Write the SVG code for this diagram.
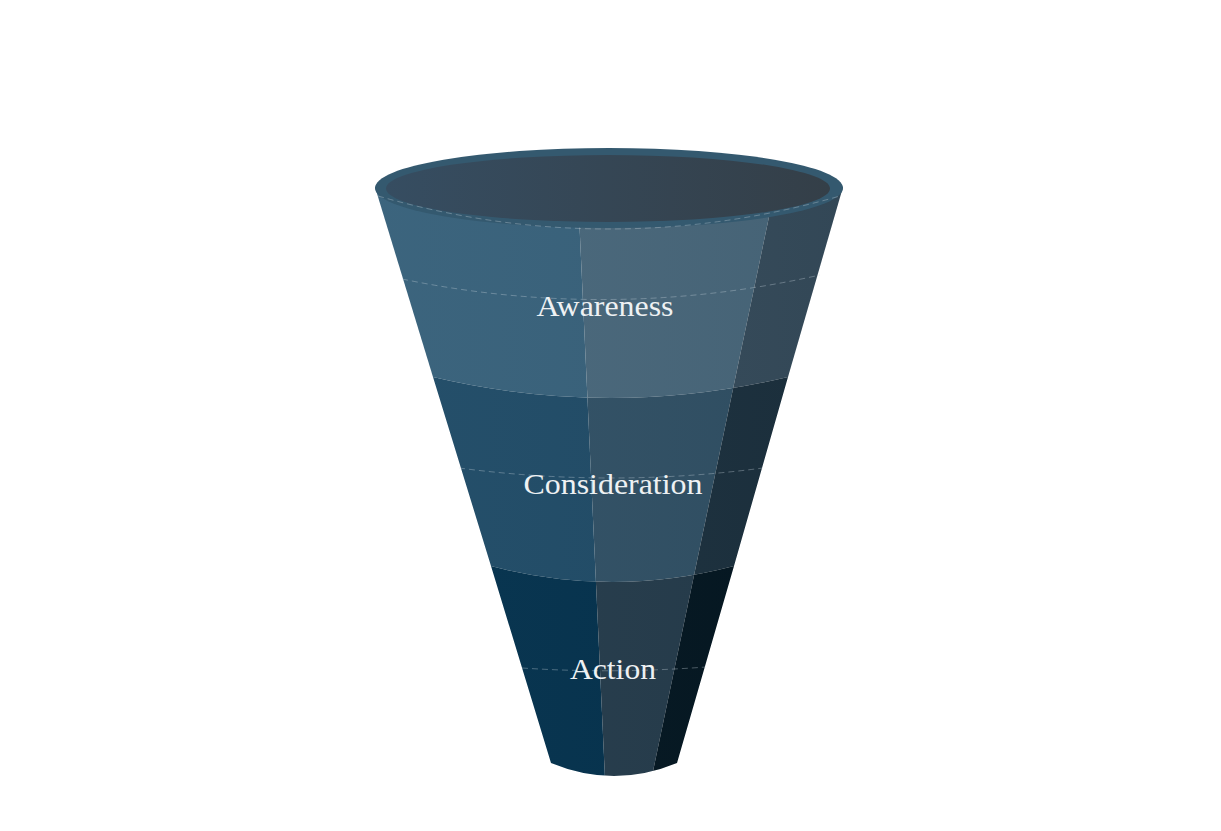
<svg xmlns="http://www.w3.org/2000/svg" width="1221" height="831" viewBox="0 0 1221 831">
<style>
.lbl{font-family:"Liberation Serif","DejaVu Serif",serif;font-size:29px;fill:#eef1f3;text-anchor:middle}
.dash{fill:none;stroke:#c8d4dc;stroke-opacity:.35;stroke-width:1;stroke-dasharray:6 4}
</style>
<defs>
<clipPath id="b1"><path d="M375,187 L433,377 Q611,419 788,377 L843,187 Z"/></clipPath>
<clipPath id="b2"><path d="M433,377 Q611,419 788,377 L734,566 Q612,598 491,566 Z"/></clipPath>
<clipPath id="b3"><path d="M491,566 Q612,598 734,566 L677,763 Q614,789 551,763 Z"/></clipPath>
<linearGradient id="inner" x1="0" x2="1"><stop offset="0" stop-color="#364d61"/><stop offset="1" stop-color="#343f48"/></linearGradient>
<linearGradient id="sh" x1="0" x2="1"><stop offset="0" stop-color="#fff" stop-opacity=".03"/><stop offset="1" stop-color="#000" stop-opacity=".06"/></linearGradient>
</defs>
<rect width="1221" height="831" fill="#fff"/>
<g id="awareness">
<g clip-path="url(#b1)">
<polygon points="300,150 576,150 606,800 300,800" fill="#36607a"/>
<polygon points="576,150 783,150 647,800 606,800" fill="#47667a"/>
<polygon points="783,150 900,150 900,800 647,800" fill="#344a5a"/>
<rect x="300" y="150" width="600" height="650" fill="url(#sh)"/>
</g>
<path class="dash" d="M402,279 Q610,322 820,275"/>
<text class="lbl" x="605" y="316" textLength="137" lengthAdjust="spacingAndGlyphs">Awareness</text>
</g>
<g id="consideration">
<g clip-path="url(#b2)">
<polygon points="300,150 576,150 606,800 300,800" fill="#1e4a66"/>
<polygon points="576,150 783,150 647,800 606,800" fill="#2f4f64"/>
<polygon points="783,150 900,150 900,800 647,800" fill="#1a2f3d"/>
<rect x="300" y="150" width="600" height="650" fill="url(#sh)"/>
</g>
<path class="dash" d="M459,468 Q612,488 763,468"/>
<text class="lbl" x="613" y="494" textLength="179" lengthAdjust="spacingAndGlyphs">Consideration</text>
</g>
<g id="action">
<g clip-path="url(#b3)">
<polygon points="300,150 576,150 606,800 300,800" fill="#02304c"/>
<polygon points="576,150 783,150 647,800 606,800" fill="#233a4a"/>
<polygon points="783,150 900,150 900,800 647,800" fill="#021520"/>
<rect x="300" y="150" width="600" height="650" fill="url(#sh)"/>
</g>
<path class="dash" d="M522,668 Q613,674 706,667"/>
<text class="lbl" x="613" y="679" textLength="86" lengthAdjust="spacingAndGlyphs">Action</text>
</g>
<g id="rim">
<ellipse cx="609" cy="188" rx="234" ry="40" fill="#34596f"/>
<ellipse cx="608" cy="188.5" rx="222" ry="33.5" fill="url(#inner)"/>
<path class="dash" d="M378,196 Q609,262 840,196"/>
</g>
</svg>
